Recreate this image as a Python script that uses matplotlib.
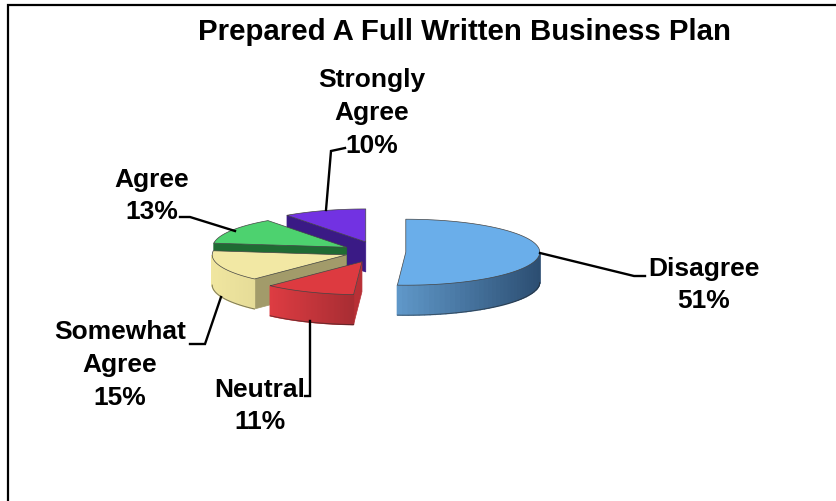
import numpy as np
import matplotlib
matplotlib.use("Agg")
import matplotlib.pyplot as plt
from matplotlib.patches import Polygon

plt.rcParams['font.family'] = ['Liberation Sans', 'DejaVu Sans']

# slices, counter-clockwise from 12 o'clock
categories = ["Strongly\nAgree", "Agree", "Somewhat\nAgree", "Neutral", "Disagree"]
values = [10, 13, 15, 11, 51]
explode = [0.32, 0.28, 0.26, 0.32, 0.20]
top_colors = ["#7232E2", "#4DD26F", "#F2E8A4", "#DD3A40", "#6AAEEA"]
wall_colors = ["#3A1A85", "#1F6B33", "#A29B6A", "#B83036", "#2F5070"]
side_left = ["#3A1A85", "#1F6B33", "#F0E6A0", "#DE3C42", "#5F97C8"]
side_right = ["#3A1A85", "#1F6B33", "#E6DC98", "#A82D33", "#2C4E72"]
label_xy = [(372, 113), (152, 196), (120, 365), (260, 406), (704, 285)]
leaders = [
    [(345, 149), (331, 152), (326, 211)],
    [(180, 218), (190, 218), (235, 232)],
    [(190, 345), (205, 345), (221, 298)],
    [(305, 397), (310, 397), (310, 322)],
    [(645, 277), (634, 277), (540, 254)],
]

cx, cy = 379, 253
rx, ry = 134, 33
depth = 30


def pt(x0, y0, deg):
    return x0 + rx * np.cos(np.radians(deg)), y0 - ry * np.sin(np.radians(deg))


def mix(c1, c2, t):
    a = np.array(matplotlib.colors.to_rgb(c1))
    b = np.array(matplotlib.colors.to_rgb(c2))
    return a + (b - a) * t


fig = plt.figure(figsize=(8.36, 5.02), dpi=100)
ax = fig.add_axes([0, 0, 1, 1])
ax.set_xlim(0, 836)
ax.set_ylim(502, 0)
ax.axis("off")

# frame, only left and top
ax.plot([8, 8, 836], [502, 6, 6], color="black", lw=1.6, solid_joinstyle="miter")

start = 90.0
for i in range(len(values)):
    end = start + values[i] / sum(values) * 360
    mid = (start + end) / 2
    x0 = cx + explode[i] * rx * np.cos(np.radians(mid))
    y0 = cy - explode[i] * ry * np.sin(np.radians(mid))
    arc = np.linspace(start, end, 80)
    outer = [pt(x0, y0, a) for a in arc]

    # flat walls of the cut, only those facing the viewer
    if 90 < (end % 360) < 270:
        ex, ey = pt(x0, y0, end)
        ax.add_patch(Polygon([(x0, y0), (ex, ey), (ex, ey + depth), (x0, y0 + depth)],
                             fc=wall_colors[i], ec=wall_colors[i], lw=0.5, zorder=i * 3 + 1))
    if 270 < start < 450:
        ex, ey = pt(x0, y0, start)
        ax.add_patch(Polygon([(x0, y0), (ex, ey), (ex, ey + depth), (x0, y0 + depth)],
                             fc=wall_colors[i], ec=wall_colors[i], lw=0.5, zorder=i * 3 + 1))

    # rim, shaded left to right
    xs = [p[0] for p in outer]
    xmin, xmax = min(xs), max(xs)
    for j in range(len(arc) - 1):
        if np.sin(np.radians((arc[j] + arc[j + 1]) / 2)) >= 0:
            continue
        p, q = outer[j], outer[j + 1]
        t = (p[0] - xmin) / (xmax - xmin)
        c = mix(side_left[i], side_right[i], t)
        ax.add_patch(Polygon([p, q, (q[0], q[1] + depth), (p[0], p[1] + depth)],
                             fc=c, ec=c, lw=1.0, zorder=i * 3 + 2))
    rim = [p for p, a in zip(outer, arc) if np.sin(np.radians(a)) < 0]
    ax.plot([p[0] for p in rim], [p[1] + depth for p in rim], color="#222222", lw=0.7,
            alpha=0.55, zorder=i * 3 + 2.5)

    # top face
    ax.add_patch(Polygon([(x0, y0)] + outer, fc=top_colors[i], ec="#444444", lw=0.5,
                         zorder=i * 3 + 3, joinstyle="round"))
    start = end

for line in leaders:
    ax.plot([p[0] for p in line], [p[1] for p in line], color="black", lw=1.7,
            solid_joinstyle="miter", zorder=30)

for name, val, (lx, ly) in zip(categories, values, label_xy):
    ax.text(lx, ly, f"{name}\n{val}%", ha="center", va="center", multialignment="center",
            fontsize=19, fontweight="bold", linespacing=1.45, color="black", zorder=31)

ax.text(465, 32, "Prepared A Full Written Business Plan", ha="center", va="center",
        fontsize=21.2, fontweight="bold", color="black", zorder=31)

fig.savefig("out.png", dpi=100)
